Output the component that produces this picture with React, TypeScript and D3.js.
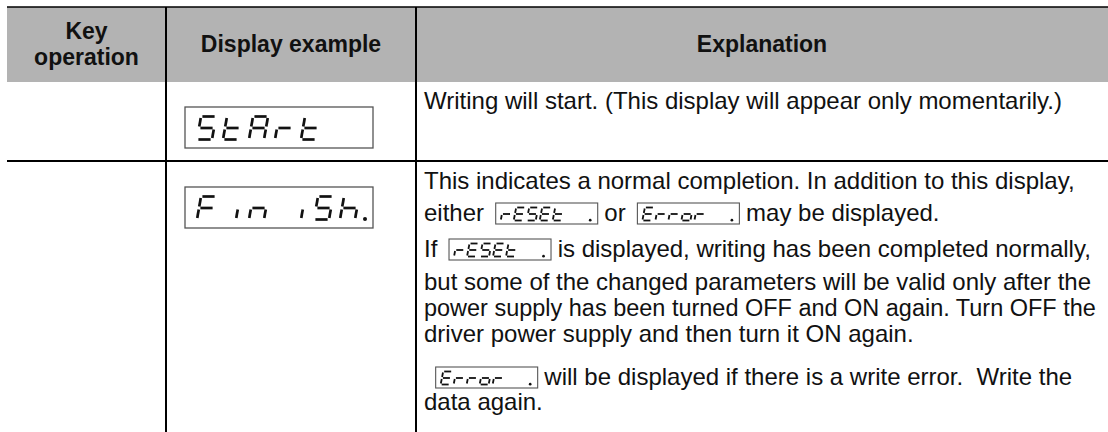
import React, { useEffect, useRef } from 'react';
import * as d3 from 'd3';

// Table content
const headerLabels: string[][] = [["Key", "operation"], ["Display example"], ["Explanation"]];

// Display strings: each character is one half-cell, "_" is an empty half-cell, "." lights the decimal point
const rowDisplays = ["S_t_A_r_t", "F__in___iS_h."];

// Explanation lines; [xxx] is an inline small display
const rowExplanations: string[][] = [
  ["Writing will start. (This display will appear only momentarily.)"],
  [
    "This indicates a normal completion. In addition to this display,",
    "either [rESEt__.] or [Error__.] may be displayed.",
    "If [rESEt__.] is displayed, writing has been completed normally,",
    "but some of the changed parameters will be valid only after the",
    "power supply has been turned OFF and ON again. Turn OFF the",
    "driver power supply and then turn it ON again.",
    " [Error__.] will be displayed if there is a write error.  Write the",
    "data again.",
  ],
];

// Seven-segment patterns
const SEGMENTS: Record<string, string> = {
  S: "afgcd",
  t: "fegd",
  A: "abcefg",
  r: "eg",
  F: "afge",
  i: "e",
  n: "ceg",
  h: "fegc",
  E: "afged",
  o: "cdeg",
};

// Layout
const W = 1108;
const H = 432;
const colX = [7, 166, 416, W];
const rowY = [7, 82, 161, H];
const lineBaselines = [[109], [189, 221, 257, 290, 316, 342, 385, 410]];
const bigBoxY = [107, 187];
const FONT = "'Liberation Sans', Arial, Helvetica, sans-serif";
const INK = "#111";
const TEXT_SIZE = 24;
const TEXT_RIGHT = 1096;

type GlyphSpec = { w: number; h: number; slant: number; gap: number; stroke: number; pitch: number; dot: number };
const BIG: GlyphSpec = { w: 15, h: 23, slant: 4, gap: 1.4, stroke: 2.7, pitch: 13, dot: 25 };
const SMALL: GlyphSpec = { w: 9, h: 13, slant: 2.5, gap: 1, stroke: 1.8, pitch: 13, dot: 11.5 };

function segmentLines(code: string, s: GlyphSpec) {
  const { w, h, slant, gap } = s;
  const m = h / 2;
  const sk = ([x, y]: number[]) => [x + slant * (1 - y / h), y];
  const defs: Record<string, number[][]> = {
    a: [[gap, 0], [w - gap, 0]],
    b: [[w, gap], [w, m - gap]],
    c: [[w, m + gap], [w, h - gap]],
    d: [[gap, h], [w - gap, h]],
    e: [[0, m + gap], [0, h - gap]],
    f: [[0, gap], [0, m - gap]],
    g: [[gap, m], [w - gap, m]],
  };
  return code.split("").map((k) => defs[k].map(sk));
}

function drawDisplay(
  g: d3.Selection<SVGGElement, unknown, null, undefined>,
  text: string,
  x0: number,
  top: number,
  s: GlyphSpec
) {
  const slot = d3.scaleLinear().domain([0, 1]).range([x0, x0 + s.pitch]);
  const line = d3.line();
  let i = 0;
  let last = 0;
  for (const ch of text) {
    if (ch === ".") {
      g.append("circle")
        .attr("cx", slot(last) + s.dot)
        .attr("cy", top + s.h - s.stroke * 0.2)
        .attr("r", s.stroke * 0.75)
        .attr("fill", INK);
      continue;
    }
    if (ch !== "_" && SEGMENTS[ch]) {
      const gx = slot(i);
      segmentLines(SEGMENTS[ch], s).forEach((pts) => {
        g.append("path")
          .attr("d", line(pts.map(([x, y]) => [gx + x, top + y]) as [number, number][]))
          .attr("stroke", INK)
          .attr("stroke-width", s.stroke)
          .attr("stroke-linecap", "butt")
          .attr("fill", "none");
      });
    }
    last = i;
    i += 1;
  }
}

const App: React.FC = () => {
  const svgRef = useRef<SVGSVGElement>(null);

  useEffect(() => {
    if (!svgRef.current) return;
    const svg = d3.select(svgRef.current);
    svg.selectAll("*").remove();

    const colCenter = d3.range(3).map((i) => (colX[i] + colX[i + 1]) / 2);

    // header band
    svg.append("rect")
      .attr("x", colX[0]).attr("y", rowY[0])
      .attr("width", colX[3] - colX[0]).attr("height", rowY[1] - rowY[0])
      .attr("fill", "#b3b3b3");

    headerLabels.forEach((lines, ci) => {
      const base = lines.length === 1 ? [52] : [39, 65];
      lines.forEach((t, li) => {
        svg.append("text")
          .attr("x", colCenter[ci]).attr("y", base[li])
          .attr("text-anchor", "middle")
          .style("font-family", FONT).style("font-size", "23px").style("font-weight", "bold")
          .attr("fill", INK)
          .text(t);
      });
    });

    // big displays
    const content = svg.append("g");
    rowDisplays.forEach((d, ri) => {
      const bx = colX[1] + 19;
      const by = bigBoxY[ri];
      content.append("rect")
        .attr("x", bx).attr("y", by).attr("width", 188).attr("height", 41)
        .attr("fill", "none").attr("stroke", "#555").attr("stroke-width", 1.3);
      drawDisplay(content, d, bx + 12, by + 9.5, BIG);
    });

    // explanations with inline displays
    const textX = colX[2] + 8;
    rowExplanations.forEach((lines, ri) => {
      lines.forEach((ln, li) => {
        const yb = lineBaselines[ri][li];
        let cx = textX;
        ln.split(/(\[[^\]]+\])/).filter((p) => p.length > 0).forEach((piece) => {
          if (piece.startsWith("[")) {
            const code = piece.slice(1, -1);
            const bx = cx + 5;
            const by = yb - 18;
            content.append("rect")
              .attr("x", bx).attr("y", by).attr("width", 102).attr("height", 21)
              .attr("fill", "none").attr("stroke", "#555").attr("stroke-width", 1.1);
            drawDisplay(content, code, bx + 5, by + 4.5, SMALL);
            cx = bx + 102;
          } else {
            const t = content.append("text")
              .attr("x", cx).attr("y", yb)
              .style("font-family", FONT).style("font-size", `${TEXT_SIZE}px`)
              .style("white-space", "pre")
              .attr("fill", INK)
              .text(piece);
            let len = (t.node() as SVGTextElement).getComputedTextLength();
            if (cx + len > TEXT_RIGHT) {
              const size = (TEXT_SIZE * (TEXT_RIGHT - cx)) / len;
              t.style("font-size", `${size}px`);
              len = (t.node() as SVGTextElement).getComputedTextLength();
            }
            cx += len;
          }
        });
      });
    });

    // rules
    const rules = svg.append("g").attr("stroke", "#000");
    rules.append("line")
      .attr("x1", colX[0]).attr("x2", colX[3]).attr("y1", rowY[0]).attr("y2", rowY[0])
      .attr("stroke-width", 1.6);
    rules.append("line")
      .attr("x1", colX[0]).attr("x2", colX[3]).attr("y1", rowY[2]).attr("y2", rowY[2])
      .attr("stroke-width", 2.2);
    [colX[1], colX[2]].forEach((x) => {
      rules.append("line")
        .attr("x1", x).attr("x2", x).attr("y1", rowY[0]).attr("y2", rowY[3])
        .attr("stroke-width", 2);
    });
  }, []);

  return (
    <div style={{ position: "absolute", left: 0, top: 0 }}>
      <svg ref={svgRef} width={W} height={H} style={{ display: "block", background: "#fff" }} />
    </div>
  );
};

export default App;
